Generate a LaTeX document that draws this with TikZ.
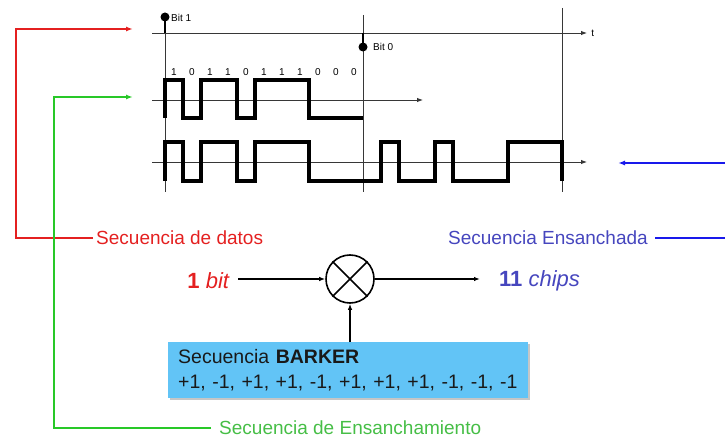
\documentclass[tikz,border=0pt]{standalone}
\usepackage{fontspec}
\setmainfont{Liberation Sans}
\usetikzlibrary{arrows.meta,shadows}
\definecolor{redc}{RGB}{228,32,32}
\definecolor{greenln}{RGB}{40,200,40}
\definecolor{greentx}{RGB}{70,190,70}
\definecolor{blueln}{RGB}{25,25,235}
\definecolor{bluetx}{RGB}{70,70,190}
\definecolor{boxc}{RGB}{98,196,246}
\definecolor{axisc}{RGB}{55,55,55}
\begin{document}
\begin{tikzpicture}[x=1pt,y=-1pt,
  axisln/.style={line width=0.9pt, draw=axisc},
  sig/.style={line width=3.3pt, line join=miter, line cap=butt},
  tipk/.style={-{Latex[length=7pt,width=5pt]}},
  tips/.style={-{Latex[length=6pt,width=4.5pt]}},
  lbl/.style={font=\fontsize{19}{22}\selectfont, inner sep=0pt},
  big/.style={font=\fontsize{22}{26}\selectfont, inner sep=0pt},
  small/.style={font=\fontsize{10}{12}\selectfont, inner sep=0pt},
  dot/.style={circle, fill=black, inner sep=0pt, minimum size=9pt},
  colln/.style={line width=1.6pt}
]
\useasboundingbox (0,0) rectangle (725,438);

% time axes and bit boundaries
\draw[axisln, tips] (152,33) -- (587,33) node[small, anchor=west, xshift=4pt] (tlab) {t};
\draw[axisln, tips] (152,100) -- (423,100);
\draw[axisln, tips] (152,162) -- (587,162);
\draw[axisln] (165,17) -- (165,192);
\draw[axisln] (363,15) -- (363,192);
\draw[axisln] (562,8) -- (562,192);

% bit markers
\node[dot] (b1dot) at (165,17) {};
\draw[line width=2.8pt] (b1dot.center) -- (165,33);
\node[small, anchor=west] (b1) at (171,18) {Bit 1};
\node[dot] (b0dot) at (363,47) {};
\draw[line width=2.8pt] (363,33) -- (b0dot.center);
\node[small, anchor=west] (b0) at (373,47) {Bit 0};

% chip labels
\foreach \v [count=\i from 0] in {1,0,1,1,0,1,1,1,0,0,0}
  \node[small] (c\i) at (174+18*\i,72) {\v};

% spreading sequence (Barker)
\draw[sig] (165,118) -- (165,80) -- (183,80) -- (183,118) -- (201,118) -- (201,80)
  -- (237,80) -- (237,118) -- (255,118) -- (255,80) -- (309,80) -- (309,118) -- (363,118);

% spread sequence
\draw[sig] (165,181) -- (165,142) -- (183,142) -- (183,181) -- (201,181) -- (201,142)
  -- (237,142) -- (237,181) -- (255,181) -- (255,142) -- (309,142) -- (309,181)
  -- (381,181) -- (381,142) -- (399,142) -- (399,181) -- (435,181) -- (435,142)
  -- (453,142) -- (453,181) -- (508,181) -- (508,142) -- (562,142) -- (562,181);

% labels
\node[lbl, text=redc, anchor=west] (datos) at (96,238) {Secuencia de datos};
\node[lbl, text=greentx, anchor=west] (ensan) at (219,428) {Secuencia de Ensanchamiento};
\node[lbl, text=bluetx, anchor=east] (ensdo) at (648,238) {Secuencia Ensanchada};

\coordinate (rc) at (16,29);
\coordinate (rt) at (133,29);
\draw[colln, draw=redc, tipk] ([xshift=-3pt]datos.west) -| (rc) -- (rt);
\coordinate (gc) at (54,97);
\coordinate (gt) at (133,97);
\draw[colln, draw=greenln, tipk] ([xshift=-8pt]ensan.west) -| (gc) -- (gt);
\coordinate (bc) at (727,163);
\coordinate (bt) at (618,163);
\draw[colln, draw=blueln, tipk] ([xshift=7pt]ensdo.east) -| (bc) -- (bt);

% mixer
\node[circle, draw, line width=1.6pt, minimum size=48pt, inner sep=0pt] (mix) at (350,279) {};
\draw[line width=1.6pt] (mix.north west) -- (mix.south east);
\draw[line width=1.6pt] (mix.north east) -- (mix.south west);

\node[big, text=redc, anchor=east] (bit) at (230,281) {\textbf{1} \textit{bit}};
\node[big, text=bluetx, anchor=west] (chips) at (499,281) {\textbf{11} \textit{chips}};
\draw[line width=1.4pt, tips] ([xshift=8pt]bit.east |- mix.west) -- (mix.west);
\draw[line width=1.4pt, tips] (mix.east) -- ([xshift=-19pt]chips.west |- mix.east);

% Barker box
\node[fill=boxc, drop shadow={shadow xshift=2pt, shadow yshift=-2pt, fill=black!50, opacity=0.45},
  anchor=north west, minimum width=360pt, minimum height=56pt, inner xsep=10pt,
  text width=340pt, align=left, font=\fontsize{19.5}{25}\selectfont, text=black!90] (barker) at (168,342)
  {Secuencia \textbf{BARKER}\\+1, -1, +1, +1, -1, +1, +1, +1, -1, -1, -1};
\draw[line width=1.4pt, tips] (mix.south |- barker.north) -- (mix.south);
\end{tikzpicture}
\end{document}
